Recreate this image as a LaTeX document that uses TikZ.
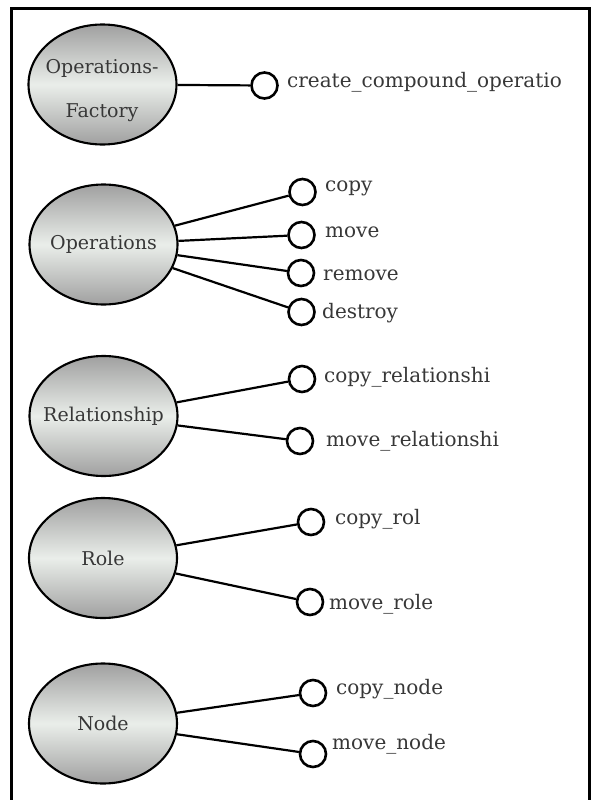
\documentclass[tikz,border=0pt]{standalone}
\usepackage{fontspec}
\setmainfont{DejaVu Serif}
\usepackage{tikz}
\usetikzlibrary{shapes.geometric,positioning}
\definecolor{shadeDark}{RGB}{160,160,160}
\definecolor{shadeLight}{RGB}{234,238,234}
\definecolor{inkGray}{RGB}{55,55,55}

\tikzset{
  iface/.style={ellipse, draw, line width=2.1pt, minimum width=148, minimum height=120,
    top color=shadeDark, bottom color=shadeDark, middle color=shadeLight},
  iname/.style={inner sep=0pt, text=inkGray, align=center,
    font=\fontsize{19}{44}\selectfont},
  port/.style={circle, draw, line width=2.6pt, minimum size=26, inner sep=0pt, fill=white},
  opname/.style={anchor=base west, inner sep=0pt, text=inkGray,
    font=\fontsize{20}{24}\selectfont},
  link/.style={line width=2.2pt}
}

\begin{document}
\begin{tikzpicture}[x=1pt,y=-1pt]
\useasboundingbox (0,0) rectangle (595,800);
\draw[line width=3pt] (11.5,800) -- (11.5,9) -- (589,9) -- (589,800);

% interfaces
\node[iface] (fac) at (102.5,84.5) {};
\node[iname] (facT) at (102,91) {Operations-\\Factory};
\node[iface] (ops) at (103.5,244.5) {};
\node[iname] (opsT) at (ops) {Operations};
\node[iface] (rel) at (103.5,416) {};
\node[iname] (relT) at (rel) {Relationship};
\node[iface] (rol) at (103,558) {};
\node[iname] (rolT) at (rol) {Role};
\node[iface] (nod) at (103,723.5) {};
\node[iname] (nodT) at (nod) {Node};

% operations
\node[port] (pcreate) at (264.5,85.5) {};
\node[port] (pcopy) at (302.5,192) {};
\node[port] (pmove) at (301.5,235) {};
\node[port] (premove) at (301,273) {};
\node[port] (pdestroy) at (301.5,312) {};
\node[port] (pcopyrel) at (302,379) {};
\node[port] (pmoverel) at (300,441) {};
\node[port] (pcopyrol) at (311,522) {};
\node[port] (pmoverole) at (310,602) {};
\node[port] (pcopynode) at (313,693) {};
\node[port] (pmovenode) at (313,754) {};

\node[opname] (lcreate) at (287,88) {create\_compound\_operatio};
\node[opname] (lcopy) at (325,191) {copy};
\node[opname] (lmove) at (325,237) {move};
\node[opname] (lremove) at (323,280) {remove};
\node[opname] (ldestroy) at (322,318) {destroy};
\node[opname] (lcopyrel) at (324,382) {copy\_relationshi};
\node[opname] (lmoverel) at (326,446) {move\_relationshi};
\node[opname] (lcopyrol) at (335,524) {copy\_rol};
\node[opname] (lmoverole) at (329,609) {move\_role};
\node[opname] (lcopynode) at (336,694) {copy\_node};
\node[opname] (lmovenode) at (332,749) {move\_node};

% connectors
\draw[link] (fac) -- (pcreate);
\draw[link] (ops) -- (pcopy);
\draw[link] (ops) -- (pmove);
\draw[link] (ops) -- (premove);
\draw[link] (ops) -- (pdestroy);
\draw[link] (rel) -- (pcopyrel);
\draw[link] (rel) -- (pmoverel);
\draw[link] (rol) -- (pcopyrol);
\draw[link] (rol) -- (pmoverole);
\draw[link] (nod) -- (pcopynode);
\draw[link] (nod) -- (pmovenode);
\end{tikzpicture}
\end{document}
